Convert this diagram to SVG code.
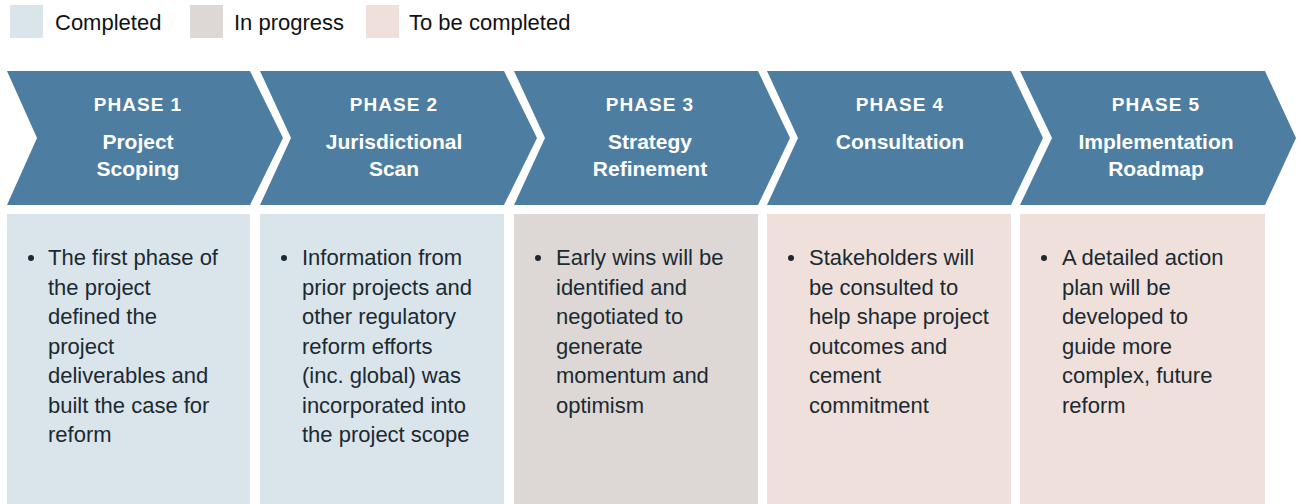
<svg xmlns="http://www.w3.org/2000/svg" width="1301" height="504" viewBox="0 0 1301 504">
<style>
.chev{fill:#4D7EA2}
.done{fill:#DAE4EB}
.prog{fill:#DDD8D6}
.todo{fill:#EFE0DC}
.leg{font-family:"Liberation Sans",Arial,sans-serif;font-size:22px;fill:#111}
.ph{font-family:"Liberation Sans",Arial,sans-serif;font-size:19px;font-weight:bold;fill:#fff;text-anchor:middle;letter-spacing:1px}
.tt{font-family:"Liberation Sans",Arial,sans-serif;font-size:21px;font-weight:bold;fill:#fff;text-anchor:middle}
.bd{font-family:"Liberation Sans",Arial,sans-serif;font-size:22px;fill:#1B2A31}
.dot{fill:#1B2A31}
</style>
<rect width="1301" height="504" fill="#fff"/>
<g id="legend">
<rect class="done" x="10" y="5" width="33" height="33"/>
<text class="leg" x="55" y="30">Completed</text>
<rect class="prog" x="190" y="5" width="33" height="33"/>
<text class="leg" x="234" y="30">In progress</text>
<rect class="todo" x="366" y="5" width="33" height="33"/>
<text class="leg" x="409" y="30">To be completed</text>
</g>
<g id="connectors"></g>
<g id="phase1">
<polygon class="chev" points="7,71 250,71 283,138 250,205 7,205 37,138"/>
<text class="ph" x="138" y="111">PHASE 1</text>
<text class="tt" x="138" y="149">Project</text>
<text class="tt" x="138" y="176">Scoping</text>
<rect class="done" x="7" y="214" width="243" height="290"/>
<circle class="dot" cx="31" cy="258" r="3"/>
<text class="bd"><tspan x="48" y="265">The first phase of</tspan><tspan x="48" y="294.5">the project</tspan><tspan x="48" y="324">defined the</tspan><tspan x="48" y="353.5">project</tspan><tspan x="48" y="383">deliverables and</tspan><tspan x="48" y="412.5">built the case for</tspan><tspan x="48" y="442">reform</tspan></text>
</g>
<g id="phase2">
<polygon class="chev" points="260,71 504,71 537,138 504,205 260,205 291,138"/>
<text class="ph" x="394" y="111">PHASE 2</text>
<text class="tt" x="394" y="149">Jurisdictional</text>
<text class="tt" x="394" y="176">Scan</text>
<rect class="done" x="260" y="214" width="244" height="290"/>
<circle class="dot" cx="284" cy="258" r="3"/>
<text class="bd"><tspan x="302" y="265">Information from</tspan><tspan x="302" y="294.5">prior projects and</tspan><tspan x="302" y="324">other regulatory</tspan><tspan x="302" y="353.5">reform efforts</tspan><tspan x="302" y="383">(inc. global) was</tspan><tspan x="302" y="412.5">incorporated into</tspan><tspan x="302" y="442">the project scope</tspan></text>
</g>
<g id="phase3">
<polygon class="chev" points="514,71 758,71 790,138 758,205 514,205 545,138"/>
<text class="ph" x="650" y="111">PHASE 3</text>
<text class="tt" x="650" y="149">Strategy</text>
<text class="tt" x="650" y="176">Refinement</text>
<rect class="prog" x="514" y="214" width="244" height="290"/>
<circle class="dot" cx="538" cy="258" r="3"/>
<text class="bd"><tspan x="556" y="265">Early wins will be</tspan><tspan x="556" y="294.5">identified and</tspan><tspan x="556" y="324">negotiated to</tspan><tspan x="556" y="353.5">generate</tspan><tspan x="556" y="383">momentum and</tspan><tspan x="556" y="412.5">optimism</tspan></text>
</g>
<g id="phase4">
<polygon class="chev" points="767,71 1011,71 1043,138 1011,205 767,205 798,138"/>
<text class="ph" x="900" y="111">PHASE 4</text>
<text class="tt" x="900" y="149">Consultation</text>
<rect class="todo" x="767" y="214" width="244" height="290"/>
<circle class="dot" cx="791" cy="258" r="3"/>
<text class="bd"><tspan x="809" y="265">Stakeholders will</tspan><tspan x="809" y="294.5">be consulted to</tspan><tspan x="809" y="324">help shape project</tspan><tspan x="809" y="353.5">outcomes and</tspan><tspan x="809" y="383">cement</tspan><tspan x="809" y="412.5">commitment</tspan></text>
</g>
<g id="phase5">
<polygon class="chev" points="1020,71 1265,71 1296,138 1265,205 1020,205 1052,138"/>
<text class="ph" x="1156" y="111">PHASE 5</text>
<text class="tt" x="1156" y="149">Implementation</text>
<text class="tt" x="1156" y="176">Roadmap</text>
<rect class="todo" x="1020" y="214" width="245" height="290"/>
<circle class="dot" cx="1044" cy="258" r="3"/>
<text class="bd"><tspan x="1062" y="265">A detailed action</tspan><tspan x="1062" y="294.5">plan will be</tspan><tspan x="1062" y="324">developed to</tspan><tspan x="1062" y="353.5">guide more</tspan><tspan x="1062" y="383">complex, future</tspan><tspan x="1062" y="412.5">reform</tspan></text>
</g>
</svg>
